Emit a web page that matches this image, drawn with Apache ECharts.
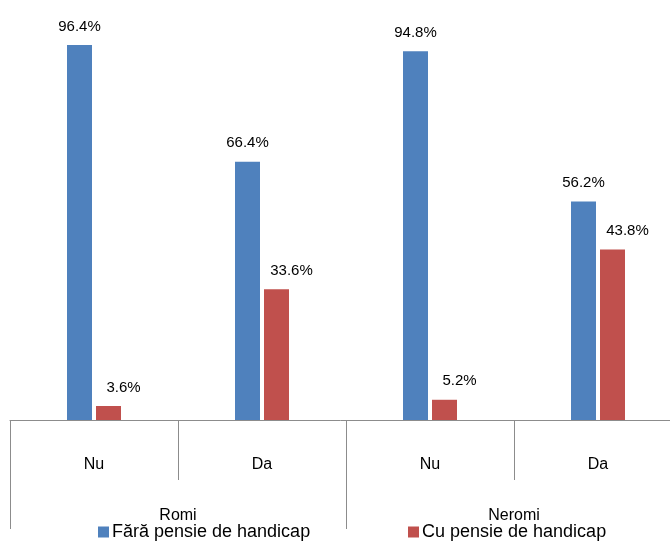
<!DOCTYPE html>
<html><head><meta charset="utf-8">
<script src="https://cdn.jsdelivr.net/npm/echarts@6/dist/echarts.min.js"></script>
<style>html,body{margin:0;padding:0;background:#fff}#c{width:670px;height:543px}</style>
</head><body><div id="c"></div>
<script>
const categories = ['Nu', 'Da', 'Nu', 'Da'];
const groups = ['Romi', 'Neromi'];
const seriesNames = ['Fără pensie de handicap', 'Cu pensie de handicap'];
const fara = [96.4, 66.4, 94.8, 56.2];
const cu = [3.6, 33.6, 5.2, 43.8];

const font = 'Liberation Sans';
const chart = echarts.init(document.getElementById('c'));
const lblBase = {show: true, position: 'top', distance: 11, formatter: p => p.value.toFixed(1) + '%', color: '#000', fontFamily: font, fontSize: 15};
chart.setOption({
  animation: false,
  grid: {left: 10, top: 31, width: 672, height: 389, outerBoundsMode: 'none', containLabel: false},
  legend: [
    {data: [seriesNames[0]], left: 98, top: 523, padding: 0, itemWidth: 11, itemHeight: 11, icon: 'rect', itemGap: 4,
     textStyle: {fontFamily: font, fontSize: 18, color: '#000', padding: [0,0,0,-2]}},
    {data: [seriesNames[1]], left: 408, top: 523, padding: 0, itemWidth: 11, itemHeight: 11, icon: 'rect',
     textStyle: {fontFamily: font, fontSize: 18, color: '#000', padding: [0,0,0,-2]}}
  ],
  xAxis: [
    {type: 'category', data: categories, position: 'bottom',
     axisLine: {lineStyle: {color: '#8c8c8c'}},
     axisTick: {show: true, interval: 0, length: 60, lineStyle: {color: '#8c8c8c'}},
     axisLabel: {margin: 37, color: '#000', fontFamily: font, fontSize: 16}},
    {type: 'category', data: groups, position: 'bottom',
     axisLine: {show: false},
     axisTick: {show: true, interval: 0, length: 109, lineStyle: {color: '#8c8c8c'}},
     axisLabel: {margin: 88, color: '#000', fontFamily: font, fontSize: 16}}
  ],
  yAxis: {type: 'value', min: 0, max: 100, show: false, splitLine: {show: false}},
  series: [
    {name: seriesNames[0], type: 'bar', data: fara, barWidth: 25, barGap: '16%', itemStyle: {color: '#4F81BD'}, label: lblBase},
    {name: seriesNames[1], type: 'bar', data: cu, barWidth: 25, barGap: '16%', itemStyle: {color: '#C0504D'}, label: Object.assign({}, lblBase, {offset: [15, 0]})}
  ]
});
</script></body></html>
